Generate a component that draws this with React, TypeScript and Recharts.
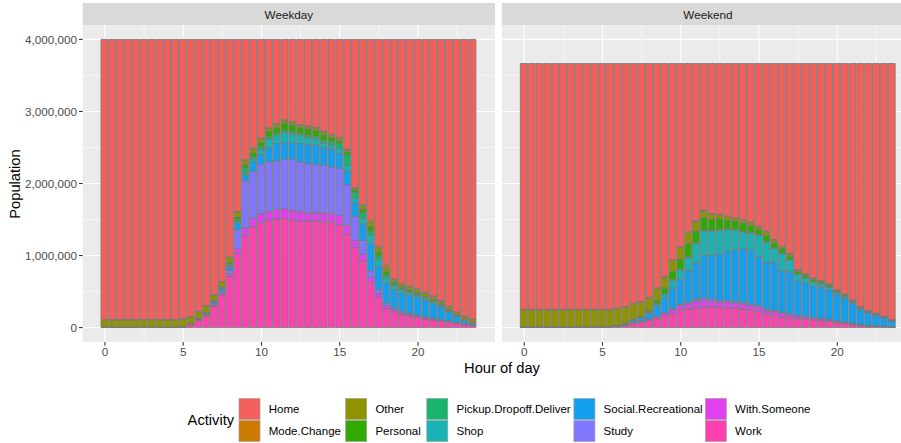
import { Bar, BarChart, CartesianGrid, XAxis, YAxis } from "recharts";

// half-hour slots, 0h .. 23.5h
const HOURS = [
  0, 0.5, 1, 1.5, 2, 2.5, 3, 3.5, 4, 4.5, 5, 5.5, 6, 6.5, 7, 7.5,
  8, 8.5, 9, 9.5, 10, 10.5, 11, 11.5, 12, 12.5, 13, 13.5, 14, 14.5, 15, 15.5,
  16, 16.5, 17, 17.5, 18, 18.5, 19, 19.5, 20, 20.5, 21, 21.5, 22, 22.5, 23, 23.5,
];

// population per activity, in thousands — Weekday
const WD_HOME = [
  3889, 3889, 3889, 3889, 3889, 3889, 3889, 3889, 3889, 3889,
  3879, 3847, 3773, 3693, 3544, 3359, 3020, 2383, 1663, 1505,
  1366, 1225, 1166, 1115, 1143, 1180, 1199, 1222, 1273, 1319,
  1361, 1524, 2053, 2290, 2509, 2871, 3136, 3322, 3391, 3420,
  3460, 3510, 3560, 3620, 3700, 3780, 3840, 3880,
];
const WD_MODE = [
  3, 3, 3, 3, 3, 3, 3, 3, 3, 3,
  4, 5, 7, 7, 8, 8, 10, 12, 19, 15,
  13, 10, 12, 11, 10, 10, 10, 10, 10, 10,
  10, 10, 10, 20, 31, 24, 34, 18, 14, 15,
  13, 13, 12, 11, 10, 10, 10, 10,
];
const WD_OTHER = [
  100, 100, 100, 100, 100, 100, 100, 100, 100, 100,
  103, 90, 90, 88, 72, 63, 65, 68, 60, 55,
  52, 38, 48, 40, 36, 36, 36, 36, 36, 37,
  27, 27, 27, 45, 60, 60, 55, 30, 30, 40,
  40, 40, 38, 38, 38, 35, 35, 38,
];
const WD_PERSONAL = [
  2, 2, 2, 2, 2, 2, 2, 2, 2, 2,
  3, 3, 5, 6, 8, 12, 25, 40, 40, 50,
  60, 79, 79, 93, 93, 79, 84, 84, 79, 55,
  47, 46, 35, 50, 60, 50, 45, 30, 25, 25,
  22, 20, 18, 15, 12, 8, 6, 4,
];
const WD_PICKUP = [
  0, 0, 0, 0, 0, 0, 0, 0, 0, 0,
  0, 1, 2, 4, 6, 10, 20, 25, 70, 40,
  42, 33, 30, 32, 29, 30, 30, 26, 37, 43,
  69, 140, 80, 80, 60, 55, 40, 25, 20, 15,
  12, 10, 8, 6, 5, 4, 3, 2,
];
const WD_SHOP = [
  0, 0, 0, 0, 0, 0, 0, 0, 0, 0,
  0, 1, 2, 3, 5, 8, 15, 30, 35, 35,
  65, 120, 110, 140, 120, 110, 100, 90, 70, 60,
  70, 83, 60, 75, 110, 90, 70, 50, 45, 40,
  35, 30, 25, 20, 14, 10, 6, 4,
];
const WD_SOCIAL = [
  2, 2, 2, 2, 2, 2, 2, 2, 2, 2,
  2, 3, 8, 15, 22, 30, 45, 85, 75, 130,
  139, 195, 246, 232, 232, 255, 264, 269, 242, 246,
  200, 186, 195, 230, 380, 320, 280, 250, 250, 250,
  245, 230, 210, 180, 130, 80, 45, 25,
];
const WD_STUDY = [
  0, 0, 0, 0, 0, 0, 0, 0, 0, 0,
  0, 2, 5, 12, 20, 30, 50, 260, 650, 651,
  683, 688, 669, 688, 711, 688, 683, 669, 659, 650,
  660, 562, 330, 190, 90, 60, 35, 25, 20, 15,
  15, 12, 10, 8, 6, 5, 4, 3,
];
const WD_WITH = [
  1, 1, 1, 1, 1, 1, 1, 1, 1, 1,
  1, 3, 8, 12, 15, 25, 35, 70, 110, 121,
  126, 121, 135, 134, 135, 139, 121, 112, 126, 126,
  134, 126, 100, 90, 70, 50, 40, 30, 25, 20,
  18, 15, 14, 12, 10, 8, 6, 4,
];
const WD_WORK = [
  3, 3, 3, 3, 3, 3, 3, 3, 3, 3,
  8, 45, 100, 160, 300, 455, 715, 1027, 1278, 1398,
  1454, 1491, 1505, 1515, 1491, 1473, 1473, 1482, 1468, 1454,
  1422, 1296, 1110, 930, 630, 420, 265, 220, 180, 160,
  140, 120, 105, 90, 75, 60, 45, 30,
];

// population per activity, in thousands — Weekend
const WE_HOME = [
  3409, 3409, 3409, 3409, 3409, 3409, 3409, 3409, 3409, 3409,
  3409, 3409, 3391, 3372, 3326, 3303, 3242, 3112, 2954, 2722,
  2545, 2336, 2183, 2035, 2081, 2091, 2118, 2138, 2166, 2198,
  2257, 2328, 2443, 2535, 2637, 2860, 2917, 2977, 3010, 3056,
  3140, 3196, 3279, 3372, 3428, 3465, 3505, 3555,
];
const WE_MODE = [
  10, 10, 10, 10, 10, 10, 10, 10, 10, 10,
  10, 10, 10, 10, 10, 10, 10, 10, 10, 10,
  10, 10, 10, 10, 8, 8, 8, 8, 8, 8,
  8, 8, 8, 7, 7, 6, 5, 5, 5, 5,
  5, 5, 5, 5, 5, 5, 4, 4,
];
const WE_OTHER = [
  232, 232, 232, 232, 232, 232, 232, 232, 232, 232,
  229, 226, 230, 220, 213, 190, 170, 165, 155, 150,
  160, 153, 129, 92, 76, 52, 48, 38, 38, 38,
  38, 48, 38, 26, 30, 17, 15, 13, 13, 13,
  12, 11, 10, 9, 9, 8, 8, 6,
];
const WE_PERSONAL = [
  3, 3, 3, 3, 3, 3, 3, 3, 3, 3,
  3, 3, 4, 6, 10, 15, 25, 45, 75, 120,
  140, 185, 167, 176, 150, 155, 122, 122, 117, 99,
  71, 85, 71, 63, 50, 37, 36, 31, 26, 25,
  19, 17, 13, 10, 8, 7, 5, 3,
];
const WE_PICKUP = [
  0, 0, 0, 0, 0, 0, 0, 0, 0, 0,
  0, 0, 1, 2, 2, 3, 4, 5, 6, 8,
  8, 10, 10, 10, 8, 8, 8, 8, 8, 8,
  8, 8, 8, 7, 6, 5, 4, 4, 4, 3,
  3, 3, 2, 2, 2, 1, 1, 1,
];
const WE_SHOP = [
  0, 0, 0, 0, 0, 0, 0, 0, 0, 0,
  0, 0, 1, 2, 4, 8, 15, 30, 60, 110,
  130, 180, 270, 339, 339, 325, 311, 269, 232, 242,
  302, 279, 186, 242, 163, 84, 70, 55, 45, 40,
  30, 25, 18, 12, 9, 7, 5, 3,
];
const WE_SOCIAL = [
  4, 4, 4, 4, 4, 4, 4, 4, 4, 4,
  4, 4, 8, 15, 30, 45, 80, 140, 200, 280,
  350, 438, 500, 590, 604, 650, 674, 715, 743, 743,
  674, 650, 674, 571, 581, 488, 460, 440, 435, 410,
  365, 330, 280, 215, 175, 150, 120, 82,
];
const WE_STUDY = [
  0, 0, 0, 0, 0, 0, 0, 0, 0, 0,
  0, 0, 1, 2, 3, 4, 6, 8, 10, 15,
  20, 25, 30, 37, 37, 23, 23, 28, 23, 23,
  23, 23, 14, 14, 14, 14, 12, 10, 9, 8,
  7, 6, 5, 4, 3, 2, 2, 1,
];
const WE_WITH = [
  2, 2, 2, 2, 2, 2, 2, 2, 2, 2,
  2, 2, 3, 4, 7, 10, 15, 25, 40, 60,
  60, 70, 92, 93, 79, 70, 79, 65, 70, 60,
  56, 46, 56, 56, 42, 33, 30, 25, 22, 20,
  16, 14, 11, 8, 6, 5, 4, 3,
];
const WE_WORK = [
  5, 5, 5, 5, 5, 5, 5, 5, 5, 5,
  8, 11, 16, 32, 60, 77, 98, 125, 155, 190,
  242, 258, 274, 283, 283, 283, 274, 274, 260, 246,
  228, 190, 167, 144, 135, 121, 116, 105, 96, 85,
  68, 58, 42, 28, 20, 15, 11, 7,
];

// legend order (ggplot factor order); Home sits on top of the stack
const ACTIVITIES = [
  { key: "home", label: "Home", color: "#F35F5A" },
  { key: "modeChange", label: "Mode.Change", color: "#CC7A00" },
  { key: "other", label: "Other", color: "#8F9300" },
  { key: "personal", label: "Personal", color: "#30A900" },
  { key: "pickup", label: "Pickup.Dropoff.Deliver", color: "#19B36B" },
  { key: "shop", label: "Shop", color: "#17B3B5" },
  { key: "social", label: "Social.Recreational", color: "#139FEE" },
  { key: "study", label: "Study", color: "#8176FF" },
  { key: "withSomeone", label: "With.Someone", color: "#E040EE" },
  { key: "work", label: "Work", color: "#FF40AF" },
];

const WEEKDAY: Record<string, number[]> = {
  home: WD_HOME, modeChange: WD_MODE, other: WD_OTHER, personal: WD_PERSONAL,
  pickup: WD_PICKUP, shop: WD_SHOP, social: WD_SOCIAL, study: WD_STUDY,
  withSomeone: WD_WITH, work: WD_WORK,
};
const WEEKEND: Record<string, number[]> = {
  home: WE_HOME, modeChange: WE_MODE, other: WE_OTHER, personal: WE_PERSONAL,
  pickup: WE_PICKUP, shop: WE_SHOP, social: WE_SOCIAL, study: WE_STUDY,
  withSomeone: WE_WITH, work: WE_WORK,
};

const X_MAJOR = [0, 5, 10, 15, 20];
const X_MINOR = [2.5, 7.5, 12.5, 17.5, 22.5];
const Y_MAJOR = [0, 1000000, 2000000, 3000000, 4000000];
const Y_MINOR = [500000, 1500000, 2500000, 3500000];

const FONT = "'Liberation Sans', Arial, Helvetica, sans-serif";
const PANEL_W = 412.3;
const PANEL_H = 317;
const Y_AXIS_W = 82.7;
const BAR_W = 7.83;

function buildRows(series: Record<string, number[]>) {
  return HOURS.map((hour, i) => {
    const row: Record<string, number> = { hour };
    for (const a of ACTIVITIES) row[a.key] = series[a.key][i] * 1000;
    return row;
  });
}

function Panel({ rows, left, showY }: { rows: Record<string, number>[]; left: number; showY: boolean }) {
  const tickStyle = { fill: "#4D4D4D", stroke: "none", fontSize: 11.7, fontFamily: FONT };
  const tickLine = { stroke: "#333333", strokeWidth: 1.07 };
  // stack bottom-up: reverse of legend order
  const stackOrder = [...ACTIVITIES].reverse();
  return (
    <div style={{ position: "absolute", left, top: 25 }}>
      <BarChart
        width={(showY ? Y_AXIS_W : 0) + PANEL_W}
        height={PANEL_H + 30}
        data={rows}
        margin={{ top: 0, right: 0, bottom: 0, left: 0 }}
        barGap={0}
        barCategoryGap={0}
      >
        <CartesianGrid
          fill="#EBEBEB"
          stroke="#FFFFFF"
          strokeWidth={0.55}
          horizontalValues={Y_MINOR}
          verticalValues={X_MINOR}
        />
        <CartesianGrid
          stroke="#FFFFFF"
          strokeWidth={1.1}
          horizontalValues={Y_MAJOR}
          verticalValues={X_MAJOR}
        />
        <XAxis
          type="number"
          dataKey="hour"
          domain={[-1.42, 24.92]}
          allowDataOverflow
          ticks={X_MAJOR}
          interval={0}
          height={30}
          axisLine={false}
          tickLine={tickLine}
          tickSize={3.7}
          tickMargin={2}
          tick={tickStyle}
        />
        <YAxis
          type="number"
          domain={[-200000, 4200000]}
          allowDataOverflow
          ticks={Y_MAJOR}
          interval={0}
          width={Y_AXIS_W}
          hide={!showY}
          axisLine={false}
          tickLine={tickLine}
          tickSize={3.7}
          tickMargin={2}
          tick={tickStyle}
          tickFormatter={(v: number) => v.toLocaleString("en-US")}
        />
        {stackOrder.map((a) => (
          <Bar
            key={a.key}
            dataKey={a.key}
            stackId="pop"
            fill={a.color}
            stroke="#7A7A7A"
            strokeWidth={0.85}
            barSize={BAR_W}
            isAnimationActive={false}
          />
        ))}
      </BarChart>
    </div>
  );
}

function Overlay() {
  const keyX = [238.5, 345.2, 426.3, 573.4, 704.9];
  const rowTop = [398, 420];
  return (
    <svg
      width={901}
      height={443}
      style={{ position: "absolute", left: 0, top: 0, pointerEvents: "none" }}
      fontFamily={FONT}
    >
      {/* facet strips */}
      <rect x={Y_AXIS_W} y={3} width={PANEL_W} height={22} fill="#D9D9D9" />
      <rect x={501.8} y={3} width={PANEL_W} height={22} fill="#D9D9D9" />
      <text x={Y_AXIS_W + PANEL_W / 2} y={14.5} fontSize={11.7} fill="#1A1A1A" textAnchor="middle" dominantBaseline="central">
        Weekday
      </text>
      <text x={501.8 + PANEL_W / 2} y={14.5} fontSize={11.7} fill="#1A1A1A" textAnchor="middle" dominantBaseline="central">
        Weekend
      </text>

      {/* axis titles */}
      <text
        x={15}
        y={184}
        fontSize={14.7}
        fill="#000000"
        textAnchor="middle"
        dominantBaseline="central"
        transform="rotate(-90 15 184)"
      >
        Population
      </text>
      <text x={502} y={368} fontSize={14.7} fill="#000000" textAnchor="middle" dominantBaseline="central">
        Hour of day
      </text>

      {/* legend */}
      <text x={187.6} y={420} fontSize={14.7} fill="#000000" dominantBaseline="central">
        Activity
      </text>
      {ACTIVITIES.map((a, i) => {
        const col = Math.floor(i / 2);
        const row = i % 2;
        const x = keyX[col];
        const y = rowTop[row];
        return (
          <g key={a.key}>
            <rect x={x} y={y} width={22} height={22} fill="#F2F2F2" />
            <rect x={x + 0.5} y={y + 0.5} width={21} height={21} fill={a.color} stroke="#A0A0A0" strokeWidth={0.6} />
            <text x={x + 30.2} y={y + 11} fontSize={11.5} fill="#000000" dominantBaseline="central">
              {a.label}
            </text>
          </g>
        );
      })}
    </svg>
  );
}

export default function App() {
  const weekdayRows = buildRows(WEEKDAY);
  const weekendRows = buildRows(WEEKEND);
  return (
    <div
      style={{
        position: "absolute",
        left: 0,
        top: 0,
        width: 901,
        height: 443,
        overflow: "hidden",
        background: "#FFFFFF",
        fontFamily: FONT,
      }}
    >
      <Panel rows={weekdayRows} left={0} showY />
      <Panel rows={weekendRows} left={501.8} showY={false} />
      <Overlay />
    </div>
  );
}
